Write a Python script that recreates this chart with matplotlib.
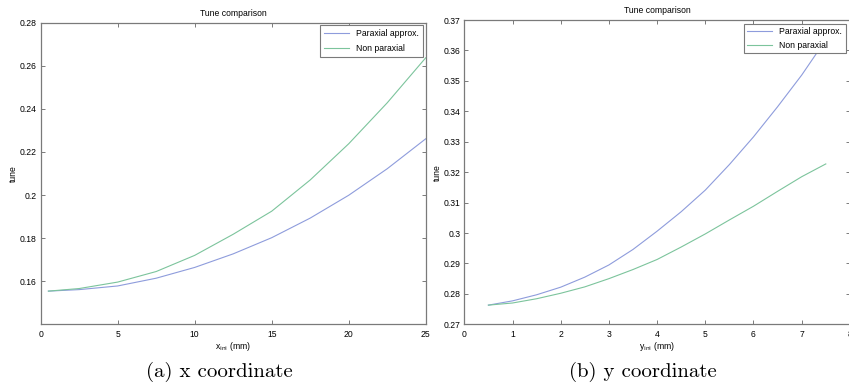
import matplotlib
matplotlib.use('Agg')
import matplotlib.pyplot as plt

# --- data ---
x_ini = [0.5, 2.5, 5, 7.5, 10, 12.5, 15, 17.5, 20, 22.5, 25]
x_paraxial = [0.1554, 0.1561, 0.1578, 0.1614, 0.1664, 0.1727, 0.1802, 0.1893, 0.1999, 0.2122, 0.2261]
x_nonparaxial = [0.1554, 0.1566, 0.1596, 0.1645, 0.1720, 0.1818, 0.1925, 0.2070, 0.2238, 0.2428, 0.2637]

y_ini = [0.5, 1, 1.5, 2, 2.5, 3, 3.5, 4, 4.5, 5, 5.5, 6, 6.5, 7, 7.5]
y_paraxial = [0.2763, 0.2777, 0.2797, 0.2822, 0.2855, 0.2895, 0.2946, 0.3006,
              0.3070, 0.3141, 0.3225, 0.3316, 0.3415, 0.3519, 0.3635]
y_nonparaxial = [0.2763, 0.2770, 0.2784, 0.2802, 0.2823, 0.2850, 0.2880, 0.2913,
                 0.2954, 0.2997, 0.3043, 0.3088, 0.3137, 0.3185, 0.3227]

x_xticks = [0, 5, 10, 15, 20, 25]
x_yticks = [0.14, 0.16, 0.18, 0.2, 0.22, 0.24, 0.26, 0.28]
x_yticklabels = ['', '0.16', '0.18', '0.2', '0.22', '0.24', '0.26', '0.28']
y_xticks = [0, 1, 2, 3, 4, 5, 6, 7, 8]
y_yticks = [0.27, 0.28, 0.29, 0.3, 0.31, 0.32, 0.33, 0.34, 0.35, 0.36, 0.37]
y_yticklabels = ['0.27', '0.28', '0.29', '0.3', '0.31', '0.32', '0.33', '0.34', '0.35', '0.36', '0.37']

labels = ['Paraxial approx.', 'Non paraxial']
captions = ['(a) x coordinate', '(b) y coordinate']

BLUE = '#8e9cdc'
GREEN = '#7cc49c'
GRAY = '#7a7a7a'

plt.rcParams['font.family'] = ['Liberation Sans', 'DejaVu Sans']

W, H = 849, 387
fig = plt.figure(figsize=(W / 100, H / 100), dpi=100)


def px_axes(left, top, right, bottom):
    # axes position from pixel box
    return fig.add_axes([left / W, 1 - bottom / H, (right - left) / W, (bottom - top) / H])


def style(ax, xticks, yticks, yticklabels, xlabel):
    ax.set_xticks(xticks)
    ax.set_xticklabels([str(t) for t in xticks])
    ax.set_yticks(yticks)
    ax.set_yticklabels(yticklabels)
    ax.tick_params(direction='in', length=3, width=0.7, color=GRAY, labelsize=6.2,
                   top=True, right=True, pad=4)
    ax.tick_params(axis='y', pad=3)
    for s in ax.spines.values():
        s.set_color(GRAY)
        s.set_linewidth(0.9)
    ax.set_title('Tune comparison', fontsize=6.2, pad=5)
    ax.set_ylabel('tune', fontsize=6.2, labelpad=1)
    ax.set_xlabel(xlabel, fontsize=6.2, labelpad=1)


# --- left panel: x coordinate ---
ax1 = px_axes(40.7, 22.7, 425.7, 324.3)
ax1.plot(x_ini, x_paraxial, color=BLUE, lw=0.8, label=labels[0])
ax1.plot(x_ini, x_nonparaxial, color=GREEN, lw=0.8, label=labels[1])
ax1.set_xlim(0, 25)
ax1.set_ylim(0.14, 0.28)
style(ax1, x_xticks, x_yticks, x_yticklabels, r'x$_{\rm ini}$ (mm)')
leg1 = ax1.legend(loc='upper right', bbox_to_anchor=(0.993, 0.992), borderaxespad=0,
                  fontsize=6.2, fancybox=False, edgecolor=GRAY, framealpha=1,
                  handlelength=2.9, borderpad=0.5, labelspacing=0.6)
leg1.get_frame().set_linewidth(0.8)

# --- right panel: y coordinate ---
ax2 = px_axes(464.3, 20, 849.9, 324.3)
ax2.plot(y_ini, y_paraxial, color=BLUE, lw=0.8, label=labels[0])
ax2.plot(y_ini, y_nonparaxial, color=GREEN, lw=0.8, label=labels[1])
ax2.set_xlim(0, 8)
ax2.set_ylim(0.27, 0.37)
style(ax2, y_xticks, y_yticks, y_yticklabels, r'y$_{\rm ini}$ (mm)')
leg2 = ax2.legend(loc='upper right', bbox_to_anchor=(0.989, 0.987), borderaxespad=0,
                  fontsize=6.2, fancybox=False, edgecolor=GRAY, framealpha=1,
                  handlelength=2.9, borderpad=0.4, labelspacing=0.5)
leg2.get_frame().set_linewidth(0.8)

# --- sub captions ---
fig.text(219 / W, 1 - 372 / H, captions[0], family='cmr10', fontsize=15,
         ha='center', va='center')
fig.text(643 / W, 1 - 372 / H, captions[1], family='cmr10', fontsize=15,
         ha='center', va='center')

fig.savefig('out.png', dpi=100)
